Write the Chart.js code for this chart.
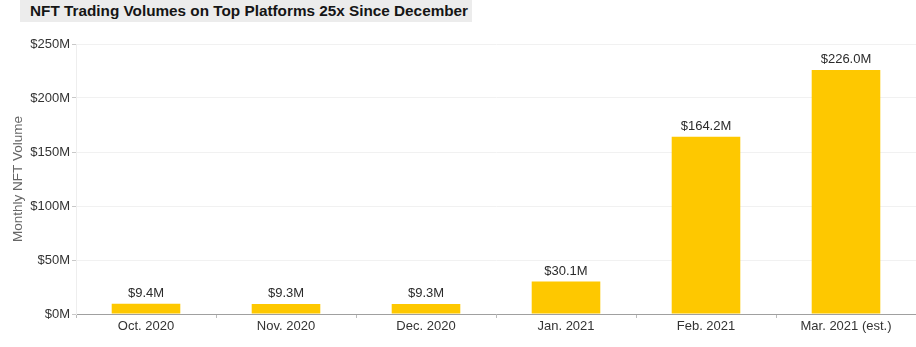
<!DOCTYPE html>
<html>
<head>
<meta charset="utf-8">
<script src="https://cdn.jsdelivr.net/npm/chart.js@4"></script>
<style>
  html, body { margin: 0; padding: 0; background: #fff; }
  #wrap { position: relative; width: 916px; height: 347px; }
  #titre {
    position: absolute; left: 20px; top: 0; width: 452px; height: 22px;
    background: #ececec; font: bold 15.3px "Liberation Sans", Arial, sans-serif;
    color: #151515; line-height: 22px; padding-left: 10px; box-sizing: border-box;
    white-space: nowrap;
  }
  canvas { position: absolute; left: 0; top: 0; }
</style>
</head>
<body>
<div id="wrap">
  <canvas id="nft" width="916" height="347"></canvas>
  <div id="titre">NFT Trading Volumes on Top Platforms 25x Since December</div>
</div>
<script>
const mois = ['Oct. 2020', 'Nov. 2020', 'Dec. 2020', 'Jan. 2021', 'Feb. 2021', 'Mar. 2021 (est.)'];
const volumes = [9.4, 9.3, 9.3, 30.1, 164.2, 226.0];
const ticksY = [0, 50, 100, 150, 200, 250];

const police = '"Liberation Sans", Arial, sans-serif';

// etiquettes au-dessus des barres
const etiquettes = {
  id: 'etiquettes',
  afterDatasetsDraw(chart) {
    const ctx = chart.ctx;
    const meta = chart.getDatasetMeta(0);
    ctx.save();
    ctx.font = '13px ' + police;
    ctx.fillStyle = '#2b2b2b';
    ctx.textAlign = 'center';
    ctx.textBaseline = 'bottom';
    meta.data.forEach((bar, i) => {
      ctx.fillText('$' + volumes[i].toFixed(1) + 'M', bar.x, bar.y - 4);
    });
    ctx.restore();
  }
};

new Chart(document.getElementById('nft'), {
  type: 'bar',
  data: {
    labels: mois,
    datasets: [{
      label: 'Monthly NFT Volume',
      data: volumes,
      backgroundColor: '#fec800',
      barPercentage: 0.49,
      categoryPercentage: 1
    }]
  },
  options: {
    animation: false,
    responsive: false,
    layout: { padding: { top: 44, right: 0, bottom: 0, left: 0 } },
    plugins: {
      legend: { display: false },
      tooltip: { enabled: false }
    },
    scales: {
      x: {
        afterFit: (s) => { s.height = 33; },
        grid: {
          offset: true,
          drawOnChartArea: false,
          tickLength: 4,
          color: '#bbbbbb'
        },
        border: { color: '#a0a0a0', width: 1 },
        ticks: {
          padding: 1,
          color: '#333333',
          font: { family: police, size: 13 }
        }
      },
      y: {
        min: 0,
        max: 250,
        afterFit: (s) => { s.width = 76; },
        afterBuildTicks: (s) => { s.ticks = ticksY.map(v => ({ value: v })); },
        grid: {
          color: '#f1f1f1',
          tickLength: 4,
          tickColor: '#c8c8c8'
        },
        border: { color: '#eeeeee' },
        ticks: {
          padding: 2,
          color: '#333333',
          font: { family: police, size: 13 },
          callback: (v) => '$' + v + 'M'
        },
        title: {
          display: true,
          text: 'Monthly NFT Volume',
          color: '#666666',
          padding: { top: 10, bottom: 0 },
          font: { family: police, size: 13.5 }
        }
      }
    }
  },
  plugins: [etiquettes]
});
</script>
</body>
</html>
